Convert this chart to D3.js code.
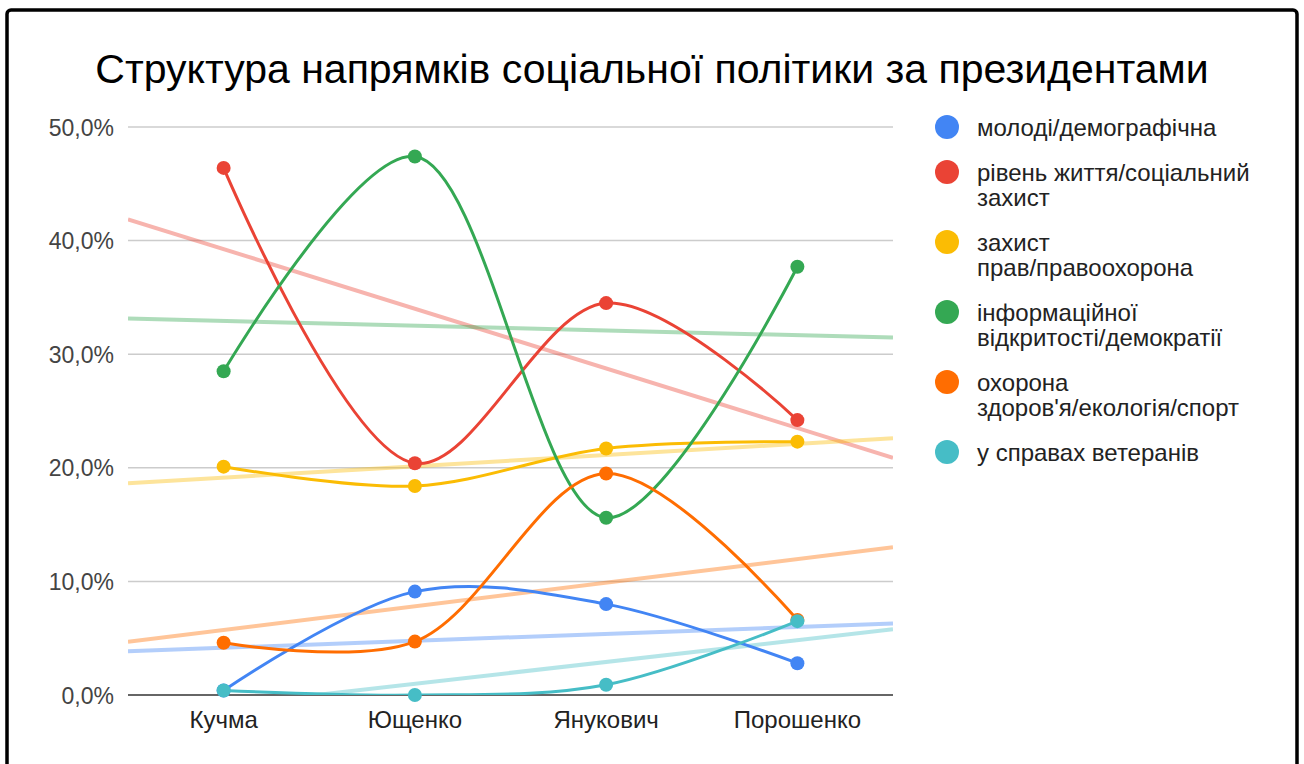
<!DOCTYPE html>
<html>
<head>
<meta charset="utf-8">
<script src="https://cdn.jsdelivr.net/npm/d3@7"></script>
<style>
  body { margin: 0; background: #fff; }
  svg { display: block; font-family: "Liberation Sans", Arial, sans-serif; }
</style>
</head>
<body>
<svg width="1304" height="764"></svg>
<script>
// categories and series (percent)
const presidents = ["Кучма", "Ющенко", "Янукович", "Порошенко"];
const youthDemo = [0.4, 9.1, 8.0, 2.8];
const livingStd = [46.4, 20.4, 34.5, 24.2];
const rightsLaw = [20.1, 18.4, 21.7, 22.3];
const infoDemo = [28.5, 47.4, 15.6, 37.7];
const healthEco = [4.6, 4.7, 19.5, 6.6];
const veterans = [0.4, 0.0, 0.9, 6.5];
const yTicks = [0, 10, 20, 30, 40, 50];

const seriesNames = ["молоді/демографічна", "рівень життя/соціальний захист", "захист прав/правоохорона",
  "інформаційної відкритості/демократії", "охорона здоров'я/екологія/спорт", "у справах ветеранів"];
const legendLines = [["молоді/демографічна"], ["рівень життя/соціальний", "захист"], ["захист", "прав/правоохорона"],
  ["інформаційної", "відкритості/демократії"], ["охорона", "здоров'я/екологія/спорт"], ["у справах ветеранів"]];
const colors = ["#4285F4", "#EA4335", "#FBBC04", "#34A853", "#FF6D01", "#46BDC6"];

const seriesValues = [youthDemo, livingStd, rightsLaw, infoDemo, healthEco, veterans];

function loadchart() {
    const svg = d3.select("svg");

    // outer frame
    svg.append("rect")
        .attr("x", 7).attr("y", 10)
        .attr("width", 1290).attr("height", 800)
        .attr("rx", 4)
        .attr("fill", "#fff")
        .attr("stroke", "#000")
        .attr("stroke-width", 3.5);

    svg.append("text")
        .attr("x", 652).attr("y", 83)
        .attr("text-anchor", "middle")
        .attr("font-size", 41)
        .attr("fill", "#000")
        .text("Структура напрямків соціальної політики за президентами");

    const left = 128, right = 893, top = 127, bottom = 695;

    const x = d3.scalePoint().domain(d3.range(presidents.length)).range([left, right]).padding(0.5);
    const y = d3.scaleLinear().domain([0, 50]).range([bottom, top]);

    svg.append("clipPath").attr("id", "plot")
        .append("rect")
        .attr("x", left).attr("y", top - 20)
        .attr("width", right - left).attr("height", bottom - top + 20);

    // gridlines
    svg.append("g")
        .selectAll("line")
        .data(yTicks.filter(d => d > 0))
        .enter().append("line")
        .attr("x1", left).attr("x2", right)
        .attr("y1", d => y(d)).attr("y2", d => y(d))
        .attr("stroke", "#cccccc")
        .attr("stroke-width", 1.5);

    // y labels
    svg.append("g")
        .selectAll("text")
        .data(yTicks)
        .enter().append("text")
        .attr("x", 114)
        .attr("y", d => y(d) + 8.5)
        .attr("text-anchor", "end")
        .attr("font-size", 23)
        .attr("fill", "#444")
        .text(d => d.toFixed(1).replace(".", ",") + "%");

    // x labels
    svg.append("g")
        .selectAll("text")
        .data(presidents)
        .enter().append("text")
        .attr("x", (d, i) => x(i))
        .attr("y", 728)
        .attr("text-anchor", "middle")
        .attr("font-size", 24)
        .attr("fill", "#222")
        .text(d => d);

    // trendlines (linear fit over category index, across the whole plot width)
    const x0 = -0.5, x1 = presidents.length - 0.5;
    const xLin = d3.scaleLinear().domain([x0, x1]).range([left, right]);
    const trends = svg.append("g").attr("clip-path", "url(#plot)");
    seriesValues.forEach((vals, s) => {
        const mx = d3.mean(vals, (v, i) => i), my = d3.mean(vals);
        const slope = d3.sum(vals, (v, i) => (i - mx) * (v - my)) / d3.sum(vals, (v, i) => (i - mx) * (i - mx));
        const b = my - slope * mx;
        trends.append("line")
            .attr("x1", xLin(x0)).attr("x2", xLin(x1))
            .attr("y1", y(b + slope * x0)).attr("y2", y(b + slope * x1))
            .attr("stroke", colors[s])
            .attr("stroke-opacity", 0.4)
            .attr("stroke-width", 4);
    });

    // baseline
    svg.append("line")
        .attr("x1", left).attr("x2", right)
        .attr("y1", y(0)).attr("y2", y(0))
        .attr("stroke", "#333")
        .attr("stroke-width", 1.5);

    const line = d3.line()
        .x((d, i) => x(i))
        .y(d => y(d))
        .curve(d3.curveCatmullRom.alpha(0.5));

    seriesValues.forEach((vals, s) => {
        const g = svg.append("g");
        g.append("path")
            .attr("d", line(vals))
            .attr("clip-path", "url(#plot)")
            .attr("fill", "none")
            .attr("stroke", colors[s])
            .attr("stroke-width", 3);
        g.selectAll("circle")
            .data(vals)
            .enter().append("circle")
            .attr("cx", (d, i) => x(i))
            .attr("cy", d => y(d))
            .attr("r", 7)
            .attr("fill", colors[s]);
    });

    // legend
    const legendY = [127, 172, 242, 312, 382, 452];
    const legend = svg.append("g")
        .selectAll("g")
        .data(seriesNames)
        .enter().append("g")
        .attr("transform", (d, i) => `translate(947,${legendY[i]})`);

    legend.append("circle")
        .attr("r", 12)
        .attr("fill", (d, i) => colors[i]);

    legend.append("text")
        .attr("x", 30)
        .attr("y", 9)
        .attr("font-size", 24)
        .attr("fill", "#222")
        .selectAll("tspan")
        .data((d, i) => legendLines[i])
        .enter().append("tspan")
        .attr("x", 30)
        .attr("dy", (d, j) => j === 0 ? 0 : 25)
        .text(d => d);
}

document.addEventListener('DOMContentLoaded', function() {
    loadchart();
});
</script>
</body>
</html>
